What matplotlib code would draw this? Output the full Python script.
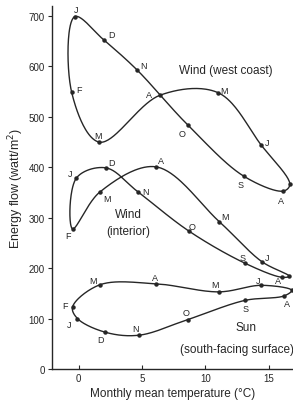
import numpy as np
import matplotlib
matplotlib.use('Agg')
import matplotlib.pyplot as plt

plt.rcParams['font.family'] = ['Liberation Sans', 'DejaVu Sans']

months = ['J', 'F', 'M', 'A', 'M', 'J', 'J', 'A', 'S', 'O', 'N', 'D']

# west coast wind
west_temp = [-0.29, -0.55, 1.63, 6.42, 11.0, 14.4, 16.65, 16.15, 13.05, 8.65, 4.58, 2.02]
west_flow = [699, 550, 450, 543, 548, 444, 366, 353, 382, 483, 594, 652]

# interior wind
inland_temp = [-0.16, -0.47, 1.68, 6.1, 11.1, 14.44, 16.6, 16.0, 13.1, 8.73, 4.7, 2.15]
inland_flow = [379, 278, 351, 401, 292, 213, 184, 182, 210, 273, 351, 399]

# sun, south facing surface
sun_temp = [-0.08, -0.47, 1.68, 6.1, 11.07, 14.4, 16.8, 16.2, 13.1, 8.6, 4.76, 2.1]
sun_flow = [100, 123, 167, 169, 153, 166, 156, 145, 136, 98, 67, 73]

# label offsets in pixels (None = no label)
west_off = [(1, 7), (7, 2), (-1, 7), (-11, 1), (6, 2), (6, 3), None, (-2, -9), (-4, -8), (-6, -8), (7, 4), (7, 6)]
inland_off = [(-6, 4), (-5, -7), (7, -6), (5, 6), (6, 5), (5, 4), None, (-4, -3), (-2, 6), (3, 5), (7, 1), (6, 5)]
sun_off = [(-8, -6), (-8, 1), (-7, 4), (-1, 6), (-4, 7), (-3, 5), None, (3, -8), (1, -8), (-2, 7), (-3, 7), (-5, -7)]

SX, SY = 12.67, 0.504   # pixel per unit, used for smoothing


def closed_curve(xs, ys, n=40):
    pts = np.column_stack([np.array(xs) * SX, np.array(ys) * SY])
    P = np.vstack([pts[-1], pts, pts[0], pts[1]])
    out = []
    for i in range(1, len(pts) + 1):
        p0, p1, p2, p3 = P[i - 1], P[i], P[i + 1], P[i + 2]
        t0 = 0.0
        t1 = t0 + np.linalg.norm(p1 - p0) ** 0.5
        t2 = t1 + np.linalg.norm(p2 - p1) ** 0.5
        t3 = t2 + np.linalg.norm(p3 - p2) ** 0.5
        t = np.linspace(t1, t2, n)[:, None]
        a1 = (t1 - t) / (t1 - t0) * p0 + (t - t0) / (t1 - t0) * p1
        a2 = (t2 - t) / (t2 - t1) * p1 + (t - t1) / (t2 - t1) * p2
        a3 = (t3 - t) / (t3 - t2) * p2 + (t - t2) / (t3 - t2) * p3
        b1 = (t2 - t) / (t2 - t0) * a1 + (t - t0) / (t2 - t0) * a2
        b2 = (t3 - t) / (t3 - t1) * a2 + (t - t1) / (t3 - t1) * a3
        c = (t2 - t) / (t2 - t1) * b1 + (t - t1) / (t2 - t1) * b2
        out.append(c)
    out = np.vstack(out + [out[0][:1]])
    return out[:, 0] / SX, out[:, 1] / SY


fig = plt.figure(figsize=(2.93, 4.02), dpi=100)
ax = fig.add_axes([0.177, 0.0796, 0.823, 0.903])
ink = '#262626'

for xs, ys, offs in [(west_temp, west_flow, west_off),
                     (inland_temp, inland_flow, inland_off),
                     (sun_temp, sun_flow, sun_off)]:
    cx, cy = closed_curve(xs, ys)
    ax.plot(cx, cy, color=ink, lw=1.0, clip_on=False)
    ax.plot(xs, ys, 'o', color=ink, ms=2.2, clip_on=False)
    for m, x, y, o in zip(months, xs, ys, offs):
        if o is None:
            continue
        ax.annotate(m, (x, y), xytext=o, textcoords='offset pixels',
                    ha='center', va='center', fontsize=6.5, color=ink)

ax.text(11.59, 594, 'Wind (west coast)', ha='center', va='center', fontsize=8.5, color=ink)
ax.text(3.9, 308, 'Wind', ha='center', va='center', fontsize=8.5, color=ink)
ax.text(3.9, 274, '(interior)', ha='center', va='center', fontsize=8.5, color=ink)
ax.text(13.2, 83, 'Sun', ha='center', va='center', fontsize=8.5, color=ink)
ax.text(8.0, 39, '(south-facing surface)', ha='left', va='center', fontsize=8.5, color=ink)

ax.set_xlim(-2.1, 16.9)
ax.set_ylim(0, 720)
ax.set_xticks([0, 5, 10, 15])
ax.set_yticks(range(0, 701, 100))
ax.tick_params(axis='x', direction='in', length=3, labelsize=7, colors=ink, pad=3)
ax.tick_params(axis='y', direction='out', length=3, labelsize=7, colors=ink, pad=2)
for s in ['top', 'right']:
    ax.spines[s].set_visible(False)
for s in ['left', 'bottom']:
    ax.spines[s].set_color(ink)
    ax.spines[s].set_linewidth(1.0)

ax.set_xlabel('Monthly mean temperature (°C)', fontsize=8.5, color=ink, labelpad=2.5)
ax.set_ylabel('Energy flow (watt/m$^2$)', fontsize=9, color=ink, labelpad=2)

fig.savefig('out.png', dpi=100)
